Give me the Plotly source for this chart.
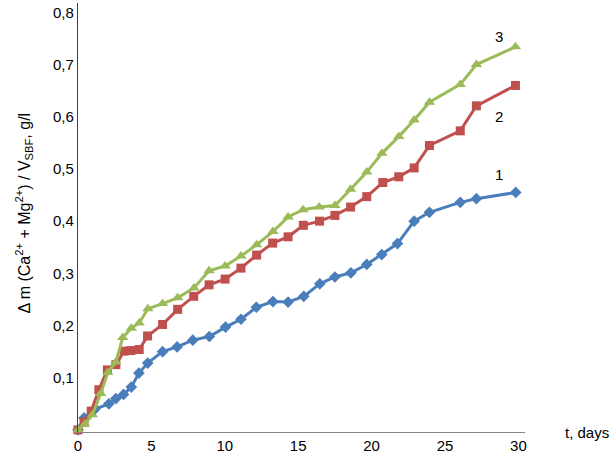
import plotly.graph_objects as go

t1 = [0, 0.41, 1.16, 2.1, 2.58, 3.1, 3.63, 4.15, 4.75, 5.76, 6.75, 7.82, 8.95, 10.05, 11.1, 12.15,
      13.28, 14.31, 15.38, 16.47, 17.5, 18.59, 19.67, 20.69, 21.76, 22.9, 23.94, 26.04, 27.14, 29.82]
v1 = [0, 0.023, 0.040, 0.050, 0.060, 0.068, 0.082, 0.109, 0.128, 0.150, 0.159, 0.172, 0.179, 0.197,
      0.212, 0.235, 0.246, 0.245, 0.256, 0.280, 0.293, 0.301, 0.317, 0.336, 0.357, 0.400, 0.417,
      0.436, 0.443, 0.455]

t2 = [0, 0.41, 0.9, 1.42, 2.0, 2.58, 3.14, 3.6, 4.17, 4.74, 5.76, 6.79, 7.88, 8.93, 10.02, 11.1,
      12.17, 13.26, 14.31, 15.35, 16.45, 17.5, 18.57, 19.67, 20.76, 21.85, 22.9, 23.94, 26.04,
      27.14, 29.8]
v2 = [0, 0.015, 0.036, 0.077, 0.115, 0.125, 0.151, 0.152, 0.154, 0.180, 0.202, 0.231, 0.256, 0.278,
      0.289, 0.310, 0.335, 0.358, 0.370, 0.392, 0.400, 0.411, 0.427, 0.447, 0.474, 0.485, 0.502,
      0.545, 0.573, 0.621, 0.660]

t3 = [0, 0.45, 0.98, 1.55, 2.03, 2.58, 3.05, 3.63, 4.17, 4.76, 5.76, 6.79, 7.9, 8.93, 10.02, 11.1,
      12.17, 13.28, 14.31, 15.33, 16.43, 17.5, 18.57, 19.67, 20.7, 21.85, 22.9, 23.94, 26.04, 27.14,
      29.8]
v3 = [0, 0.011, 0.029, 0.070, 0.110, 0.130, 0.177, 0.195, 0.205, 0.232, 0.242, 0.253, 0.272, 0.305,
      0.314, 0.333, 0.355, 0.380, 0.408, 0.422, 0.427, 0.430, 0.461, 0.494, 0.530, 0.562, 0.594,
      0.628, 0.662, 0.700, 0.734]

series_labels = ["1", "2", "3"]
x_ticks = [0, 5, 10, 15, 20, 25, 30]
y_ticks = [0.1, 0.2, 0.3, 0.4, 0.5, 0.6, 0.7, 0.8]
y_ticktext = ["0,1", "0,2", "0,3", "0,4", "0,5", "0,6", "0,7", "0,8"]

FONT = "Liberation Sans, Arial, sans-serif"
BLUE, RED, GREEN = "#4A7EBB", "#C0504D", "#9BBB59"

fig = go.Figure()
fig.add_trace(go.Scatter(x=t1, y=v1, mode="lines+markers", cliponaxis=False,
                         line=dict(color=BLUE, width=3),
                         marker=dict(symbol="diamond", size=9, color=BLUE)))
fig.add_trace(go.Scatter(x=t2, y=v2, mode="lines+markers", cliponaxis=False,
                         line=dict(color=RED, width=3),
                         marker=dict(symbol="square", size=9, color=RED)))
fig.add_trace(go.Scatter(x=t3, y=v3, mode="lines+markers", cliponaxis=False,
                         line=dict(color=GREEN, width=3),
                         marker=dict(symbol="triangle-up", size=10, color=GREEN)))

# series number labels near line ends
label_pos = [(t1[-1] - 1.15, v1[-1] + 0.035), (t2[-1] - 1.15, v2[-1] - 0.06), (t3[-1] - 1.15, v3[-1] + 0.02)]
for lab, (lx, ly) in zip(series_labels, label_pos):
    fig.add_annotation(x=lx, y=ly, text=lab, showarrow=False, xref="x", yref="y",
                       font=dict(family=FONT, size=15, color="#000000"))

fig.add_annotation(x=1.0, y=0, xref="paper", yref="paper", xanchor="left", yanchor="middle",
                   xshift=38, text="t, days", showarrow=False,
                   font=dict(family=FONT, size=15, color="#000000"))

fig.add_annotation(x=-0.12, y=0.51, xref="paper", yref="paper", textangle=-90,
                   xanchor="center", yanchor="middle", showarrow=False,
                   text="Δ m (Ca<sup>2+</sup> + Mg<sup>2+</sup>) / V<sub>SBF</sub>, g/l",
                   font=dict(family=FONT, size=16, color="#000000"))

fig.update_layout(
    width=615, height=455,
    margin=dict(l=78, r=90, t=3, b=23),
    plot_bgcolor="white", paper_bgcolor="white",
    showlegend=False,
    font=dict(family=FONT, size=14, color="#000000"),
)
fig.update_xaxes(range=[0, 30.45], tickvals=x_ticks, showgrid=False, zeroline=False,
                 showline=True, linecolor="#868686", linewidth=1.3, ticks="", automargin=False,
                 tickfont=dict(family=FONT, size=15, color="#000000"))
fig.update_yaxes(range=[-0.004, 0.818], tickvals=y_ticks, ticktext=y_ticktext, showgrid=False,
                 zeroline=False, showline=True, linecolor="#404040", linewidth=1.3, ticks="",
                 automargin=False,
                 tickfont=dict(family=FONT, size=15, color="#000000"))

fig.write_html("out.html", config={"displayModeBar": False},
               post_script="document.body.style.margin='0';document.body.style.overflow='hidden';")
